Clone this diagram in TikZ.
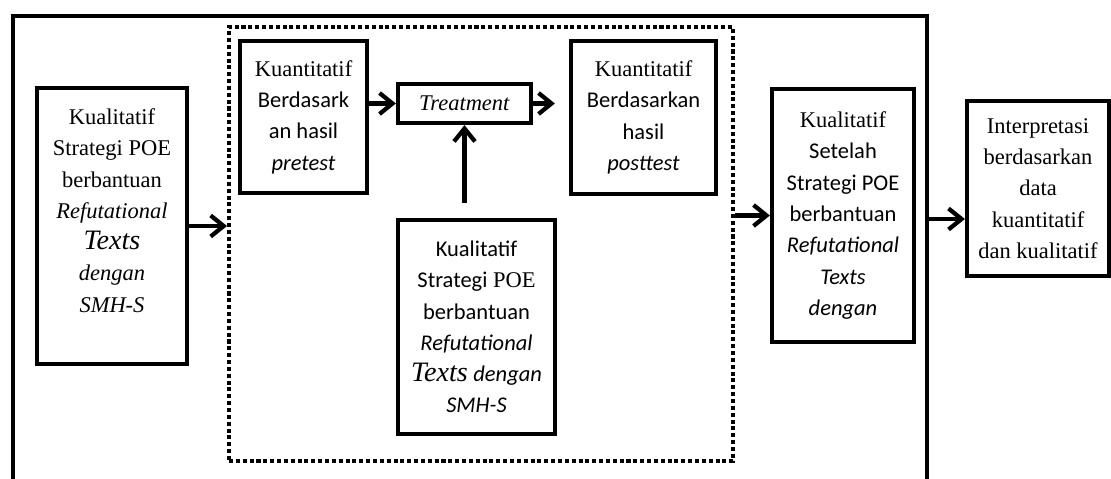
\documentclass[tikz,border=0pt]{standalone}
\usepackage{fontspec}
\setmainfont{Liberation Serif}
\newfontfamily\calibri{Carlito}
\usetikzlibrary{positioning,arrows.meta}
\tikzset{
  >={Straight Barb[length=2.6mm,width=4.2mm]},
  box/.style={draw, line width=0.085cm, align=center, inner sep=2pt, font=\fontsize{12.8}{17.8}\selectfont},
  arr/.style={->, line width=0.085cm},
}

\begin{document}
\begin{tikzpicture}[x=0.02cm,y=-0.02cm]
\useasboundingbox (0,0) rectangle (1111,479);
% outer frame, open at the bottom
\draw[line width=0.09cm] (13,500) -- (13,16) -- (927,16) -- (927,500);
% dotted group
\node[draw, line width=0.08cm, dash pattern=on 2.3pt off 1.6pt, minimum width=10.08cm, minimum height=8.68cm] (grp) at (481,244) {};

\node[box, minimum width=3cm, minimum height=5.52cm] (qualA) at (112,226) {Kualitatif\\Strategi POE\\berbantuan\\\textit{Refutational}\\{\fontsize{16}{17.8}\selectfont\textit{Texts}}\\\textit{dengan}\\\textit{SMH-S}\\\mbox{}};

\node[box, minimum width=2.54cm, minimum height=3.04cm] (pre) at (303.5,117) {Kuantitatif\\{\calibri Berdasark}\\{\calibri an hasil}\\{\calibri\itshape pretest}};
\node[box, minimum width=2.66cm, minimum height=0.78cm] (treat) at (464.5,103.5) {\textit{Treatment}};
\node[box, minimum width=2.9cm, minimum height=3.06cm] (post) at (643.5,117.5) {Kuantitatif\\{\calibri Berdasarkan}\\{\calibri hasil}\\{\calibri\itshape posttest}};
\node[box, minimum width=3.14cm, minimum height=4.28cm] (qualB) at (476.5,327) {{\calibri Kualitatif}\\{\calibri Strategi} POE\\{\calibri berbantuan}\\{\calibri\itshape Refutational}\\{\fontsize{16}{17.8}\selectfont\itshape Texts} {\calibri\itshape dengan}\\{\calibri\itshape SMH-S}};

\node[box, minimum width=2.84cm, minimum height=5.06cm] (setelah) at (843,215.5) {Kualitatif\\{\calibri Setelah}\\{\calibri Strategi POE}\\{\calibri berbantuan}\\{\calibri\itshape Refutational}\\{\calibri\itshape Texts}\\{\calibri\itshape dengan}};
\node[box, minimum width=2.84cm, minimum height=3.5cm] (interp) at (1038,188.5) {Interpretasi\\berdasarkan\\data\\kuantitatif\\dan kualitatif};

% arrows
\draw[arr] (qualA.east) -- (qualA.east -| grp.west);
\draw[arr] (treat.west -| pre.east) -- (treat.west);
\draw[arr, shorten >=0.28cm] (treat.east) -- (treat.east -| post.west);
\draw[arr, shorten <=0.3cm] (treat.south |- qualB.north) -- (treat.south);
\draw[arr] (grp.east |- setelah.west) -- (setelah.west);
\coordinate (fr) at (927,219);
\draw[arr] (fr) -- (fr -| interp.west);

\end{tikzpicture}
\end{document}
